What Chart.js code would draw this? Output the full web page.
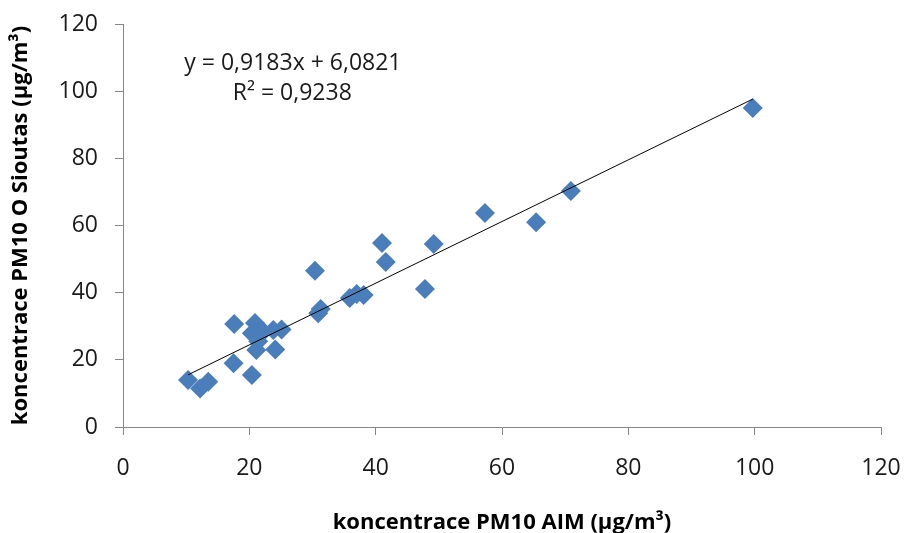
<!DOCTYPE html>
<html>
<head>
<meta charset="utf-8">
<script src="https://cdn.jsdelivr.net/npm/chart.js@4/dist/chart.umd.min.js"></script>
<style>
  html, body { margin: 0; padding: 0; background: #fff; }
  #wrap { width: 905px; height: 533px; }
</style>
</head>
<body>
<div id="wrap"><canvas id="c" width="905" height="533"></canvas></div>
<script>
// koncentrace PM10 - AIM (osa x) vs. O Sioutas (osa y), µg/m3
const aimValues = [10.3, 12.2, 13.5, 17.5, 17.6, 20.4, 20.4, 20.9, 21.1, 21.4,
                   22.2, 23.8, 24.1, 25.1, 30.4, 30.9, 31.3, 35.9, 37.0, 38.1,
                   41.0, 41.6, 47.8, 49.2, 57.3, 65.4, 70.9, 99.7];
const sioutasValues = [14.0, 11.5, 13.5, 19.0, 30.7, 15.5, 27.9, 31.0, 22.9, 25.5,
                       28.4, 28.9, 23.1, 29.0, 46.5, 33.9, 35.1, 38.4, 39.6, 39.3,
                       54.8, 49.1, 41.1, 54.5, 63.7, 61.0, 70.3, 95.0];

// linearni trend (z rovnice v grafu)
const trendSlope = 0.9183;
const trendIntercept = 6.0821;
const trendLabels = ["y = 0,9183x + 6,0821", "R² = 0,9238"];

const axisTicks = [0, 20, 40, 60, 80, 100, 120];

const points = aimValues.map((x, i) => ({ x: x, y: sioutasValues[i] }));
const xMin = Math.min(...aimValues);
const xMax = Math.max(...aimValues);
const trendPoints = [
    { x: xMin, y: trendSlope * xMin + trendIntercept },
    { x: xMax, y: trendSlope * xMax + trendIntercept }
];

const FONT = "'Open Sans', 'Noto Sans', sans-serif";
const AXIS_GREY = "#868686";

// popisek rovnice trendu
const equationPlugin = {
    id: "equation",
    afterDatasetsDraw(chart) {
        const { ctx, scales } = chart;
        ctx.save();
        ctx.fillStyle = "#1a1a1a";
        ctx.font = "23px " + FONT;
        ctx.textAlign = "center";
        ctx.textBaseline = "middle";
        ctx.fillText(trendLabels[0], scales.x.getPixelForValue(26.9), scales.y.getPixelForValue(108.2));
        ctx.fillText(trendLabels[1], scales.x.getPixelForValue(26.8), scales.y.getPixelForValue(99.2));
        ctx.restore();
    }
};

new Chart(document.getElementById("c"), {
    type: "scatter",
    data: {
        datasets: [
            {
                type: "line",
                label: "trend",
                data: trendPoints,
                borderColor: "#000",
                borderWidth: 1,
                pointRadius: 0,
                fill: false,
                order: 0
            },
            {
                label: "PM10",
                data: points,
                pointStyle: "rectRot",
                pointRadius: 10,
                pointHoverRadius: 10,
                backgroundColor: "#4a7ebb",
                borderColor: "#4a7ebb",
                borderWidth: 0,
                order: 1
            }
        ]
    },
    options: {
        responsive: false,
        animation: false,
        layout: { padding: { top: 24, right: 24, left: 0, bottom: 0 } },
        plugins: {
            legend: { display: false },
            tooltip: { enabled: false }
        },
        scales: {
            x: {
                type: "linear",
                min: 0,
                max: 120,
                afterBuildTicks: (s) => { s.ticks = axisTicks.map(v => ({ value: v })); },
                afterFit: (s) => { s.height = 106; s.paddingLeft = 0; s.paddingRight = 0; },
                grid: { drawOnChartArea: false, tickLength: 8, color: AXIS_GREY },
                border: { display: true, color: AXIS_GREY, width: 1 },
                ticks: {
                    color: "#1a1a1a",
                    font: { family: FONT, size: 23 },
                    padding: 20,
                    maxRotation: 0
                },
                title: {
                    display: true,
                    text: "koncentrace PM10 AIM (µg/m³)",
                    color: "#000",
                    font: { family: FONT, size: 22, weight: "bold" },
                    padding: { top: 0, bottom: -3 }
                }
            },
            y: {
                type: "linear",
                min: 0,
                max: 120,
                afterBuildTicks: (s) => { s.ticks = axisTicks.map(v => ({ value: v })); },
                afterFit: (s) => { s.width = 123; s.paddingTop = 0; s.paddingBottom = 0; },
                grid: { drawOnChartArea: false, tickLength: 8, color: AXIS_GREY },
                border: { display: true, color: AXIS_GREY, width: 1 },
                ticks: {
                    color: "#1a1a1a",
                    font: { family: FONT, size: 23 },
                    padding: 17
                },
                title: {
                    display: true,
                    text: "koncentrace PM10 O Sioutas (µg/m³)",
                    color: "#000",
                    font: { family: FONT, size: 22, weight: "bold" },
                    padding: { top: 8, bottom: 0 }
                }
            }
        }
    },
    plugins: [equationPlugin]
});
</script>
</body>
</html>
